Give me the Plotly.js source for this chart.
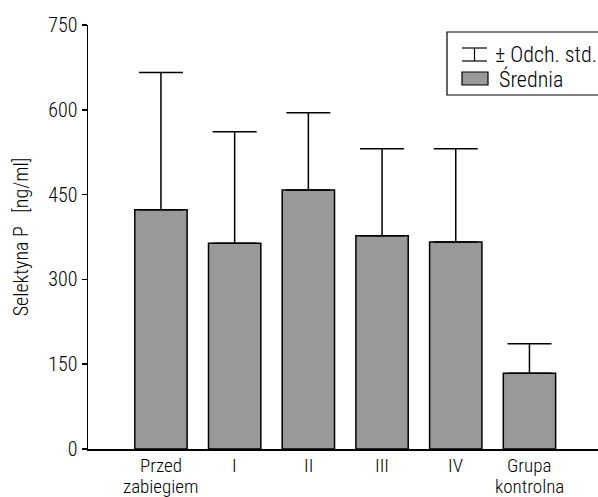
<!DOCTYPE html>
<html>
<head>
<meta charset="utf-8">
<script src="https://cdn.plot.ly/plotly-3.0.1.min.js"></script>
<style>html,body{margin:0;padding:0;background:#fff;overflow:hidden}#chart{width:598px;height:497px}</style>
</head>
<body>
<div id="chart"></div>
<script>
const categories = ["Przed zabiegiem", "I", "II", "III", "IV", "Grupa kontrolna"];
const labelLines = [["Przed", "zabiegiem"], ["I"], ["II"], ["III"], ["IV"], ["Grupa", "kontrolna"]];
const means = [423, 364, 458, 377, 366, 134];
const sds = [243, 197, 137, 154, 165, 52];
const yTicks = [0, 150, 300, 450, 600, 750];
const legendLabels = ["± Odch. std.", "Średnia"];

const FONT = '"Roboto Condensed", "DejaVu Sans Condensed", sans-serif';
const WEIGHT = 300;
const W = 598, H = 497;
const M = {l: 88, r: 0, t: 25, b: 48};
const pw = W - M.l - M.r, ph = H - M.t - M.b;
const px = x => (x - M.l) / pw;
const py = y => (H - M.b - y) / ph;

const trace = {
  type: 'bar',
  x: categories,
  y: means,
  marker: {color: '#999999', line: {color: '#000', width: 1.5}},
  error_y: {type: 'data', array: sds, arrayminus: means.map(() => 0), symmetric: false,
            color: '#000', thickness: 1.5, width: 22},
  showlegend: false,
  hoverinfo: 'skip'
};

const shapes = [
  {type: 'rect', xref: 'paper', yref: 'paper', x0: px(447), x1: px(604), y0: py(95), y1: py(32),
   line: {color: '#000', width: 1.2}, fillcolor: '#fff'},
  {type: 'line', xref: 'paper', yref: 'paper', x0: px(462), x1: px(487), y0: py(48), y1: py(48), line: {color: '#000', width: 1.2}},
  {type: 'line', xref: 'paper', yref: 'paper', x0: px(462), x1: px(487), y0: py(61), y1: py(61), line: {color: '#000', width: 1.2}},
  {type: 'line', xref: 'paper', yref: 'paper', x0: px(474.5), x1: px(474.5), y0: py(48), y1: py(61), line: {color: '#000', width: 1.2}},
  {type: 'rect', xref: 'paper', yref: 'paper', x0: px(462), x1: px(488), y0: py(85), y1: py(72),
   fillcolor: '#999999', line: {color: '#000', width: 1.2}}
];

const annotations = [
  {xref: 'paper', yref: 'paper', x: px(493), y: py(54), text: legendLabels[0], showarrow: false,
   xanchor: 'left', yanchor: 'middle', font: {family: FONT, size: 22, weight: WEIGHT, color: '#000'}},
  {xref: 'paper', yref: 'paper', x: px(497), y: py(79), text: legendLabels[1], showarrow: false,
   xanchor: 'left', yanchor: 'middle', font: {family: FONT, size: 22, weight: WEIGHT, color: '#000'}}
];
labelLines.forEach((lines, i) => {
  lines.forEach((t, j) => {
    annotations.push({xref: 'x', yref: 'paper', x: categories[i], y: py(466 + j * 20), text: t,
      showarrow: false, xanchor: 'center', yanchor: 'middle',
      font: {family: FONT, size: 19, weight: WEIGHT, color: '#000'}});
  });
});

const layout = {
  width: W, height: H,
  margin: M,
  paper_bgcolor: '#fff', plot_bgcolor: '#fff',
  font: {family: FONT, size: 19, weight: WEIGHT, color: '#000'},
  bargap: 0.29,
  showlegend: false,
  xaxis: {
    range: [-0.99, 5.93], showline: true, linecolor: '#000', linewidth: 1.5,
    ticks: '', showticklabels: false, showgrid: false, zeroline: false, fixedrange: true
  },
  yaxis: {
    range: [0, 750], tickvals: yTicks, ticktext: yTicks.map(String),
    showline: true, linecolor: '#000', linewidth: 1.5,
    ticks: 'outside', ticklen: 5, tickwidth: 1.5, tickcolor: '#000',
    showgrid: false, zeroline: false, fixedrange: true,
    tickfont: {family: FONT, size: 20, weight: WEIGHT, color: '#000'},
    title: {text: 'Selektyna P\u00a0\u00a0\u00a0[ng/ml]', font: {family: FONT, size: 20, weight: WEIGHT, color: '#000'}, standoff: 14}
  },
  shapes: shapes,
  annotations: annotations
};

Plotly.newPlot('chart', [trace], layout, {displayModeBar: false, staticPlot: true});
</script>
</body>
</html>
